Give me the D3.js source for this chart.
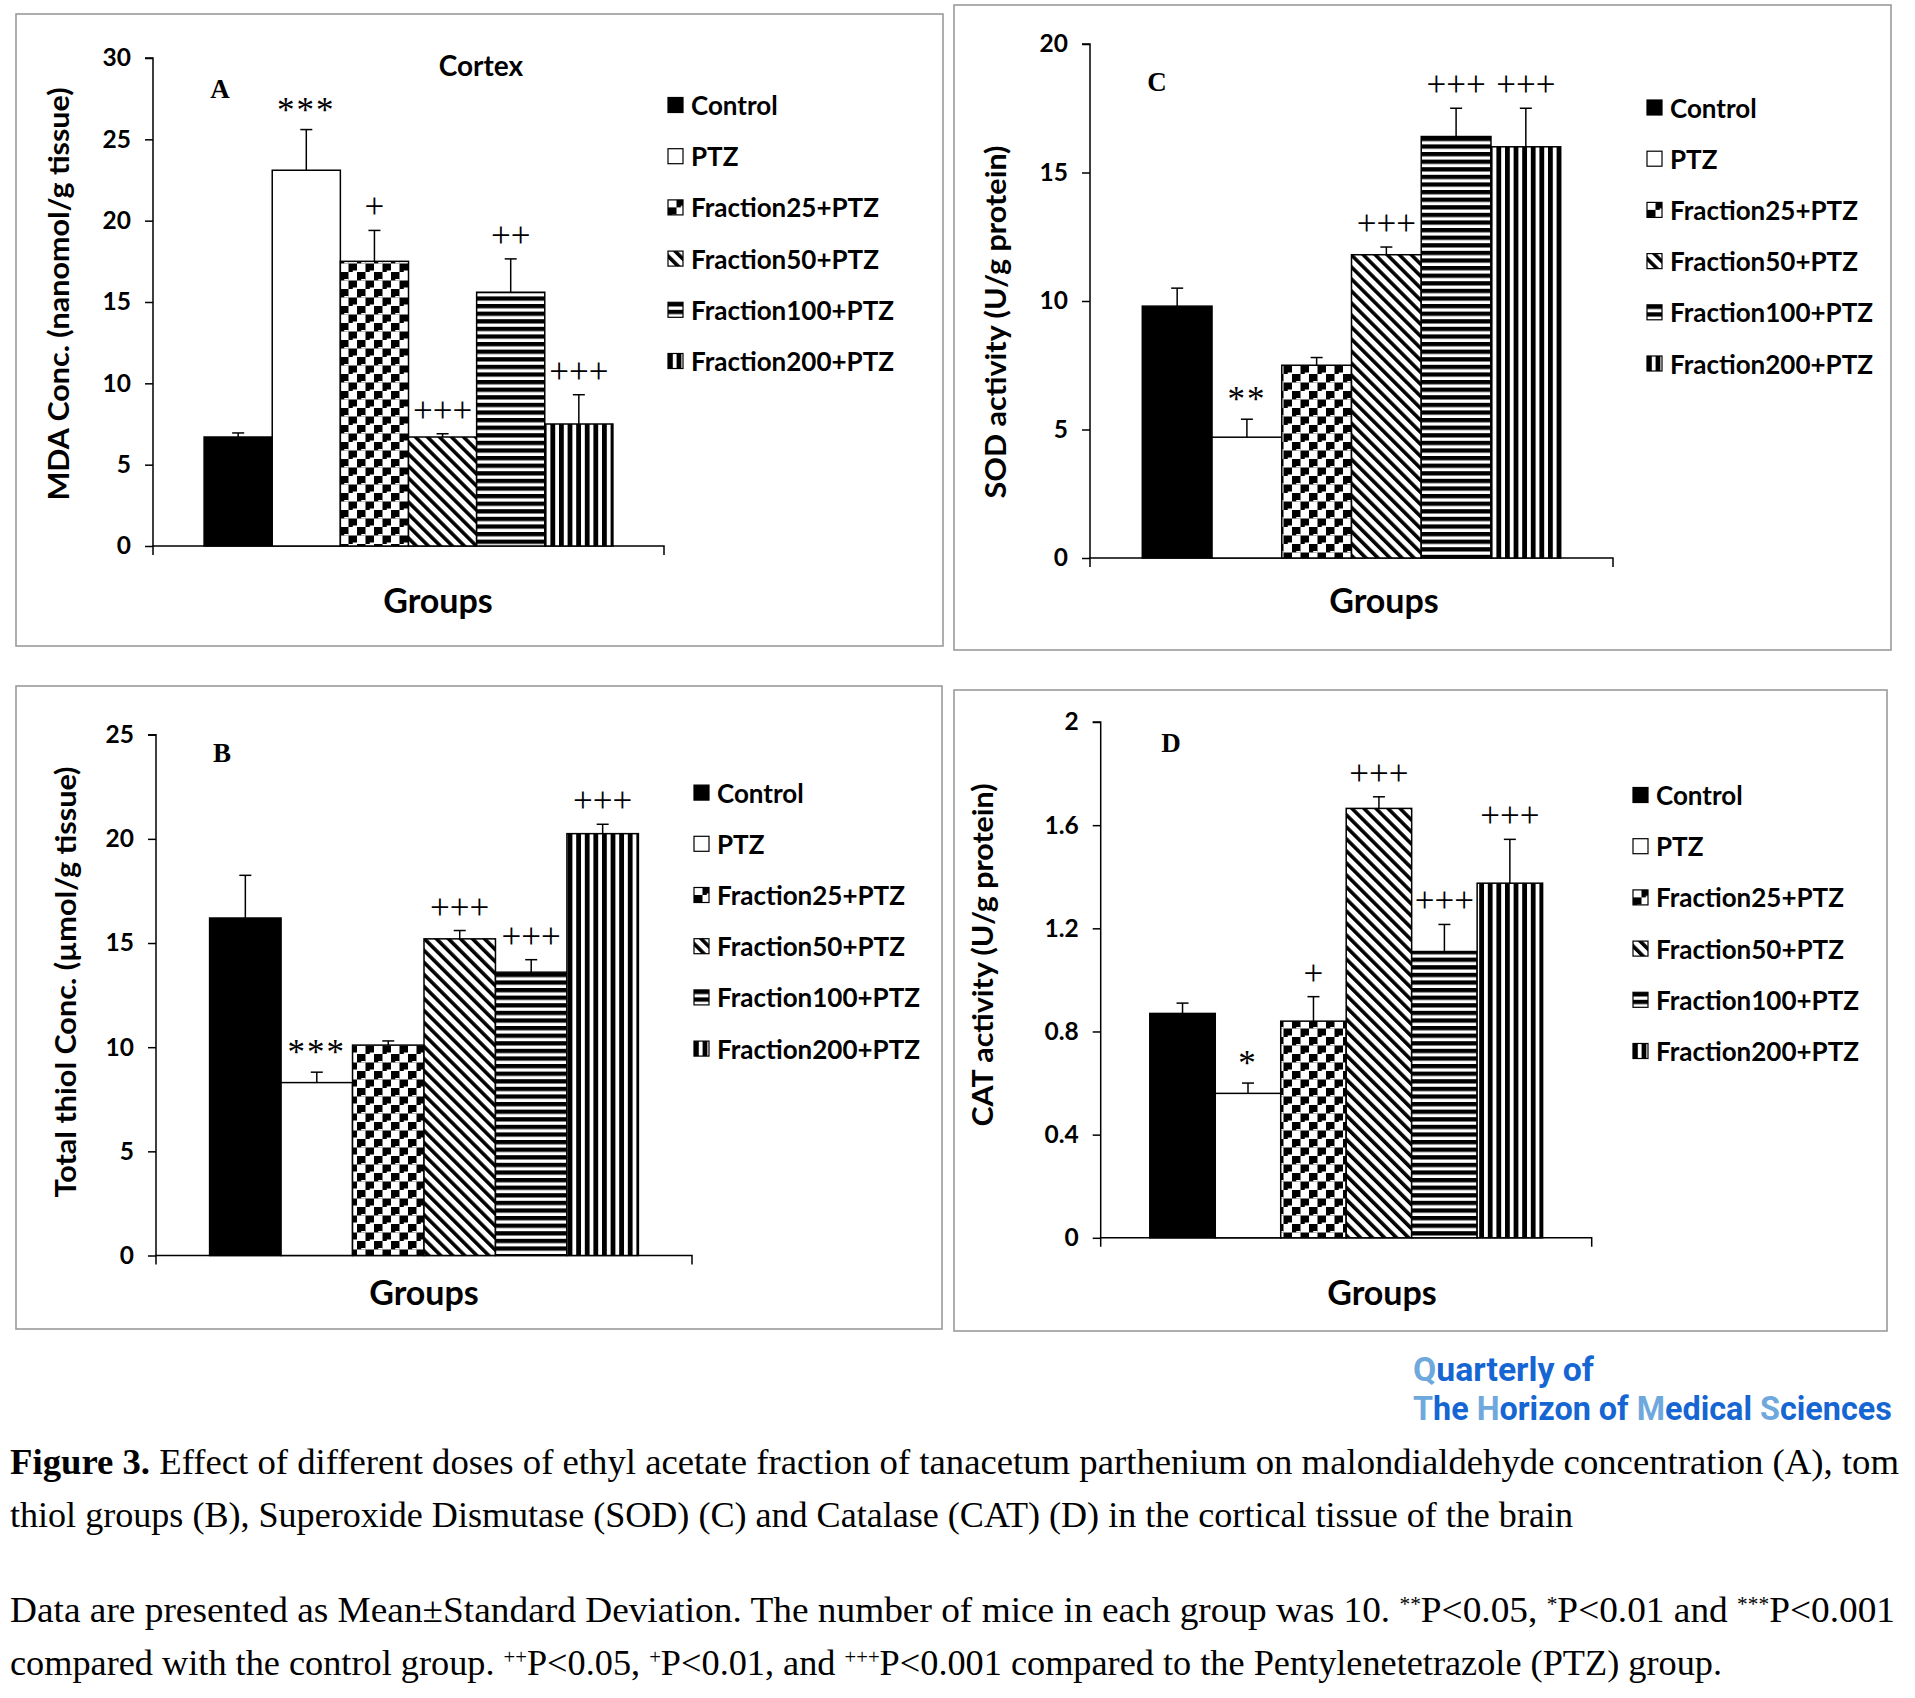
<!DOCTYPE html>
<html><head><meta charset="utf-8">
<script src="https://cdn.jsdelivr.net/npm/d3@7"></script>
<style>
html,body{margin:0;padding:0;background:#fff;}
svg{display:block;}
</style></head>
<body>
<svg id="fig" width="1915" height="1698"></svg>
<script>
// ---------------- DATA ----------------
const groups = ["Control", "PTZ", "Fraction25+PTZ", "Fraction50+PTZ", "Fraction100+PTZ", "Fraction200+PTZ"];

const mdaMean = [6.7, 23.1, 17.5, 6.7, 15.6, 7.5];
const mdaSD   = [0.25, 2.5, 1.9, 0.2, 2.05, 1.8];
const mdaSig  = ["", "***", "+", "+++", "++", "+++"];
const mdaTicks = [0, 5, 10, 15, 20, 25, 30];

const thiolMean = [16.2, 8.3, 10.1, 15.2, 13.6, 20.25];
const thiolSD   = [2.05, 0.5, 0.2, 0.4, 0.6, 0.45];
const thiolSig  = ["", "***", "", "+++", "+++", "+++"];
const thiolTicks = [0, 5, 10, 15, 20, 25];

const sodMean = [9.8, 4.7, 7.5, 11.8, 16.4, 16.0];
const sodSD   = [0.7, 0.7, 0.3, 0.3, 1.1, 1.5];
const sodSig  = ["", "**", "", "+++", "+++", "+++"];
const sodTicks = [0, 5, 10, 15, 20];

const catMean = [0.87, 0.56, 0.84, 1.665, 1.11, 1.375];
const catSD   = [0.04, 0.04, 0.095, 0.045, 0.105, 0.17];
const catSig  = ["", "*", "+", "+++", "+++", "+++"];
const catTicks = [0, 0.4, 0.8, 1.2, 1.6, 2];

const fills = ["solid", "white", "checker", "diag", "hstripe", "vstripe"];

// ---------------- LAYOUT ----------------
const svg = d3.select("#fig");
const defs = svg.append("defs");
const SANS = "Lato, 'Open Sans', sans-serif";
const SERIF = "'Liberation Serif', 'DejaVu Serif', serif";

// patterns
{
  const c = 8.5, P = 2*c;
  const p1 = defs.append("pattern").attr("id","checker").attr("patternUnits","userSpaceOnUse").attr("width",P).attr("height",P);
  p1.append("rect").attr("width",P).attr("height",P).attr("fill","#fff");
  p1.append("rect").attr("x",0).attr("y",0).attr("width",c).attr("height",c).attr("fill","#000");
  p1.append("rect").attr("x",c).attr("y",c).attr("width",c).attr("height",c).attr("fill","#000");
  p1.append("rect").attr("x",c*0.5).attr("y",c-1.5).attr("width",c*0.5).attr("height",1.5).attr("fill","#fff");
  p1.append("rect").attr("x",c*1.5).attr("y",P-1.5).attr("width",c*0.5).attr("height",1.5).attr("fill","#fff");

  const p2 = defs.append("pattern").attr("id","diag").attr("patternUnits","userSpaceOnUse").attr("width",8.5).attr("height",8.5).attr("patternTransform","rotate(-45)");
  p2.append("rect").attr("width",8.5).attr("height",8.5).attr("fill","#fff");
  p2.append("rect").attr("width",3.6).attr("height",8.5).attr("fill","#000");

  const p3 = defs.append("pattern").attr("id","hstripe").attr("patternUnits","userSpaceOnUse").attr("width",8).attr("height",7.6);
  p3.append("rect").attr("width",8).attr("height",7.6).attr("fill","#fff");
  p3.append("rect").attr("width",8).attr("height",4.3).attr("fill","#000");

  const p4 = defs.append("pattern").attr("id","vstripe").attr("patternUnits","userSpaceOnUse").attr("width",8.6).attr("height",8);
  p4.append("rect").attr("width",8.6).attr("height",8).attr("fill","#fff");
  p4.append("rect").attr("width",4.8).attr("height",8).attr("fill","#000");
}
function fillOf(k){
  if (k === "solid") return "#000";
  if (k === "white") return "#fff";
  return "url(#" + k + ")";
}

const panels = [
  { letter:"A", mean:mdaMean, sd:mdaSD, sig:mdaSig, ticks:mdaTicks, max:30, fmt:d=>d,
    ylabel:"MDA Conc. (nanomol/g tissue)", ylabLen:413, ylabX:57, ylabY:294,
    box:[16,14,943,646], x0:153, x1:664, yTop:58, yBot:546,
    letterPos:[220,98], legX:668, legY:105, groupsPos:[438,613], title:"Cortex", titlePos:[481,76] },
  { letter:"C", mean:sodMean, sd:sodSD, sig:sodSig, ticks:sodTicks, max:20, fmt:d=>d,
    ylabel:"SOD activity (U/g protein)", ylabLen:353, ylabX:994, ylabY:322,
    box:[954,5,1891,650], x0:1090, x1:1613, yTop:44, yBot:558,
    letterPos:[1157,91], legX:1647, legY:107.5, groupsPos:[1384,613] },
  { letter:"B", mean:thiolMean, sd:thiolSD, sig:thiolSig, ticks:thiolTicks, max:25, fmt:d=>d,
    ylabel:"Total thiol Conc. (\u00b5mol/g tissue)", ylabLen:431, ylabX:64, ylabY:982,
    box:[16,686,942,1329], x0:156, x1:692, yTop:734.7, yBot:1255.5,
    letterPos:[222,762], legX:694, legY:792.6, groupsPos:[424,1305] },
  { letter:"D", mean:catMean, sd:catSD, sig:catSig, ticks:catTicks, max:2, fmt:d=>String(d),
    ylabel:"CAT activity (U/g protein)", ylabLen:343, ylabX:981, ylabY:955,
    box:[954,690,1887,1331], x0:1100.7, x1:1591.7, yTop:722, yBot:1237.8,
    letterPos:[1171,752], legX:1633, legY:795, groupsPos:[1382,1305] }
];

panels.forEach(P => {
  const g = svg.append("g");
  // frame
  g.append("rect").attr("x",P.box[0]).attr("y",P.box[1])
    .attr("width",P.box[2]-P.box[0]).attr("height",P.box[3]-P.box[1])
    .attr("fill","none").attr("stroke","#9a9a9a").attr("stroke-width",1.6);

  const pad = (P.x1 - P.x0) * 0.1;
  const x = d3.scaleBand().domain(groups).range([P.x0 + pad, P.x1 - pad]).padding(0);
  const y = d3.scaleLinear().domain([0, P.max]).range([P.yBot, P.yTop]);

  // y axis
  const yAxis = d3.axisLeft(y).tickValues(P.ticks).tickSize(8).tickPadding(14).tickFormat(P.fmt);
  const ya = g.append("g").attr("transform",`translate(${P.x0},0)`).call(yAxis);
  ya.select(".domain").attr("stroke","#000").attr("stroke-width",1.5).attr("d",`M-8,${P.yTop}H0V${P.yBot}`);
  ya.selectAll(".tick line").attr("stroke","#000").attr("stroke-width",1.5);
  ya.selectAll(".tick text").attr("font-family",SANS).attr("font-weight","bold").attr("font-size",24.5).attr("fill","#000");

  // x axis (no labels, end ticks)
  const xa = g.append("g").attr("transform",`translate(0,${P.yBot})`);
  xa.append("path").attr("d",`M${P.x0},9V0H${P.x1}V9`).attr("fill","none").attr("stroke","#000").attr("stroke-width",1.5);

  // bars
  g.selectAll("rect.bar").data(groups).join("rect").attr("class","bar")
    .attr("x", d => x(d)).attr("width", x.bandwidth())
    .attr("y", (d,i) => y(P.mean[i])).attr("height", (d,i) => y(0) - y(P.mean[i]))
    .attr("fill", (d,i) => fillOf(fills[i])).attr("stroke","#000").attr("stroke-width",1.5);

  // error bars (upper)
  const eb = g.selectAll("g.err").data(groups).join("g").attr("class","err");
  eb.append("line")
    .attr("x1", d => x(d) + x.bandwidth()/2).attr("x2", d => x(d) + x.bandwidth()/2)
    .attr("y1", (d,i) => y(P.mean[i])).attr("y2", (d,i) => y(P.mean[i] + P.sd[i]))
    .attr("stroke","#000").attr("stroke-width",1.5);
  eb.append("line")
    .attr("x1", d => x(d) + x.bandwidth()/2 - 6).attr("x2", d => x(d) + x.bandwidth()/2 + 6)
    .attr("y1", (d,i) => y(P.mean[i] + P.sd[i])).attr("y2", (d,i) => y(P.mean[i] + P.sd[i]))
    .attr("stroke","#000").attr("stroke-width",1.5);

  // significance marks
  g.selectAll("text.sig").data(groups).join("text").attr("class","sig")
    .attr("x", d => x(d) + x.bandwidth()/2)
    .attr("y", (d,i) => y(P.mean[i] + P.sd[i]) - (P.sig[i].startsWith("*") ? 8 : 12))
    .attr("text-anchor","middle").attr("font-family",SERIF).attr("font-size",35).attr("fill","#000")
    .attr("letter-spacing", (d,i) => P.sig[i].startsWith("*") ? 2 : 0)
    .text((d,i) => P.sig[i]);

  // panel letter
  g.append("text").attr("x",P.letterPos[0]).attr("y",P.letterPos[1]).attr("text-anchor","middle")
    .attr("font-family",SERIF).attr("font-weight","bold").attr("font-size",27).text(P.letter);

  if (P.title) {
    g.append("text").attr("x",P.titlePos[0]).attr("y",P.titlePos[1]).attr("text-anchor","middle")
      .attr("font-family",SANS).attr("font-weight","bold").attr("font-size",28).text(P.title);
  }

  // y label
  g.append("text").attr("transform",`translate(${P.ylabX},${P.ylabY}) rotate(-90)`)
    .attr("text-anchor","middle").attr("dominant-baseline","central")
    .attr("font-family",SANS).attr("font-weight","bold").attr("font-size",29)
    .attr("textLength",P.ylabLen).attr("lengthAdjust","spacingAndGlyphs").text(P.ylabel);

  // x label
  g.append("text").attr("x",P.groupsPos[0]).attr("y",P.groupsPos[1]).attr("text-anchor","middle")
    .attr("font-family",SANS).attr("font-weight","bold").attr("font-size",34).text("Groups");

  // legend
  const leg = g.selectAll("g.leg").data(groups).join("g").attr("class","leg")
    .attr("transform",(d,i) => `translate(${P.legX},${P.legY + i*51.2})`);
  leg.append("rect").attr("x",0).attr("y",-7.5).attr("width",15).attr("height",15)
    .attr("fill",(d,i) => fillOf(fills[i])).attr("stroke","#000").attr("stroke-width",1.2);
  leg.append("text").attr("x",23).attr("y",0).attr("dominant-baseline","central")
    .attr("font-family",SANS).attr("font-weight","bold").attr("font-size",26).text(d => d);
});

// ---------------- Journal mark ----------------
const LIGHT = "#6ea8dc", DARK = "#1565d2";
function brand(parts, xx, yy, len){
  const t = svg.append("text").attr("x",xx).attr("y",yy).attr("font-family","Roboto, 'Open Sans', sans-serif")
    .attr("font-weight","bold").attr("font-size",29);
  parts.forEach(p => t.append("tspan").attr("fill", p[1] ? LIGHT : DARK).text(p[0]));
  const w = t.node().getComputedTextLength();
  if (w > 0) t.attr("font-size", 29 * len / w);
}
brand([["Q",1],["uarterly of",0]], 1413, 1381, 181);
brand([["T",1],["he ",0],["H",1],["orizon of ",0],["M",1],["edical ",0],["S",1],["ciences",0]], 1413, 1420, 479);

// ---------------- Caption ----------------
function capLine(parts, yy, len){
  const t = svg.append("text").attr("x",10).attr("y",yy).attr("font-family",SERIF)
    .attr("font-size",35).attr("fill","#000").attr("textLength",len).attr("lengthAdjust","spacingAndGlyphs");
  parts.forEach(p => {
    const s = t.append("tspan").text(p.t);
    if (p.b) s.attr("font-weight","bold");
    if (p.sup) s.attr("font-size",20).attr("baseline-shift","super");
  });
}
capLine([{t:"Figure 3.",b:1},{t:" Effect of different doses of ethyl acetate fraction of tanacetum parthenium on malondialdehyde concentration (A), tom"}], 1474, 1889);
capLine([{t:"thiol groups (B), Superoxide Dismutase (SOD) (C) and Catalase (CAT) (D) in the cortical tissue of the brain"}], 1527, 1563);
capLine([{t:"Data are presented as Mean\u00b1Standard Deviation. The number of mice in each group was 10. "},{t:"**",sup:1},{t:"P<0.05, "},{t:"*",sup:1},{t:"P<0.01 and "},{t:"***",sup:1},{t:"P<0.001"}], 1622, 1885);
capLine([{t:"compared with the control group. "},{t:"++",sup:1},{t:"P<0.05, "},{t:"+",sup:1},{t:"P<0.01, and "},{t:"+++",sup:1},{t:"P<0.001 compared to the Pentylenetetrazole (PTZ) group."}], 1675, 1712);
</script>
</body></html>
